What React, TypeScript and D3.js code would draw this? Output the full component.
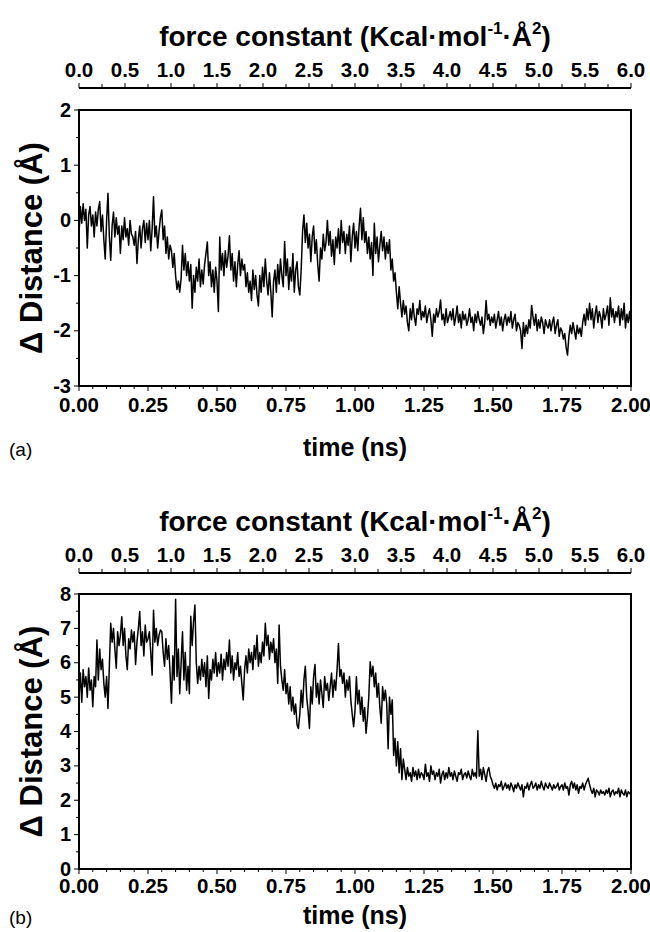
import React from "react";
import * as d3 from "d3";

const STEP = 0.005; // ns between samples
const timeTicks = [0, 0.25, 0.5, 0.75, 1.0, 1.25, 1.5, 1.75, 2.0];
const forceTicks = [0, 0.5, 1.0, 1.5, 2.0, 2.5, 3.0, 3.5, 4.0, 4.5, 5.0, 5.5, 6.0];
const yTicksA = [-3, -2, -1, 0, 1, 2];
const yTicksB = [0, 1, 2, 3, 4, 5, 6, 7, 8];

const seriesA: number[] = [
  -0.25, 0.25, -0.05, 0.3, 0.0, 0.2, -0.5, 0.1, 0.25, -0.1,
  0.1, -0.3, 0.15, -0.1, 0.2, 0.34, -0.2, 0.1, -0.35, -0.7,
  0.0, 0.49, -0.3, -0.72, -0.1, 0.15, -0.3, 0.05, -0.25, -0.1,
  -0.6, -0.1, -0.35, 0.05, -0.3, -0.15, -0.45, 0.0, -0.25, -0.3,
  -0.45, -0.2, -0.78, -0.35, -0.1, -0.5, -0.15, 0.0, -0.4, -0.05,
  -0.35, 0.0, -0.55, -0.15, 0.43, -0.3, -0.1, -0.5, -0.2, 0.05,
  0.19, -0.35, -0.1, -0.6, -0.3, -0.7, -0.45, -0.55, -0.85, -0.6,
  -1.0, -1.25, -1.1, -1.3, -1.05, -0.45, -0.9, -0.6, -1.0, -0.75,
  -1.1, -0.8, -1.59, -1.0, -1.3, -0.85, -1.1, -0.7, -1.2, -0.9,
  -1.15, -0.8, -0.6, -0.39, -1.0, -0.75, -1.2, -0.9, -1.3, -0.85,
  -1.1, -1.65, -0.3, -0.9, -0.6, -1.0, -0.55, -0.85, -0.65, -0.28,
  -0.9, -0.6, -1.1, -0.75, -1.2, -0.8, -0.55, -1.0, -0.7, -0.9,
  -0.8, -1.2, -0.95, -1.3, -1.1, -1.45, -0.9, -1.25, -1.0, -1.35,
  -1.55, -1.0, -1.3, -0.85, -1.2, -0.7, -1.1, -1.35, -0.95, -1.3,
  -1.75, -1.1, -0.9, -1.3, -0.8, -1.15, -0.7, -1.0, -1.2, -0.38,
  -1.0, -0.7, -1.25, -0.85, -1.1, -0.6, -1.3, -0.9, -0.75, -1.2,
  -1.35, -0.9, -0.2, 0.1, -0.4, -0.05, -0.5, -0.25, -0.75, -0.3,
  -0.1, -0.6, -0.35, -0.8, -1.1, -0.5, -0.7, -0.25, -0.55, -0.4,
  0.0, -0.45, -0.2, -0.65, -0.35, -0.8, -0.3, -0.5, -0.15, -0.6,
  0.0, -0.4, -0.2, -0.6, -0.25, -0.45, -0.1, -0.75, -0.3, -0.05,
  -0.5, -0.2, -0.55, -0.1, 0.22, -0.35, 0.05, -0.4, -0.2, -0.6,
  -0.3, -0.7, -0.4, -1.0, -0.05, -0.6, -0.3, -0.75, -0.45, -0.2,
  -0.55, -0.3, -0.7, -0.4, -0.6, -0.35, -0.9, -0.7, -1.1, -0.95,
  -1.3, -1.6, -1.2, -1.5, -1.75, -1.45, -1.7, -1.55, -1.85, -2.0,
  -1.6, -1.8, -1.5, -1.75, -1.9, -1.6, -1.7, -1.45, -1.8, -1.65,
  -1.75, -1.55, -1.85, -1.7, -1.6, -1.8, -2.1, -1.7, -1.85, -1.6,
  -1.75, -1.65, -1.44, -1.8, -1.7, -1.9, -1.6, -1.85, -1.75, -1.65,
  -1.8, -1.6, -1.9, -1.75, -1.55, -1.85, -1.7, -1.95, -1.65, -1.8,
  -1.7, -1.9, -1.8, -1.6, -1.85, -1.75, -2.0, -1.7, -1.85, -1.65,
  -1.8, -1.9, -1.75, -2.05, -1.85, -1.45, -1.8, -1.7, -1.9, -1.75,
  -1.85, -1.7, -1.95, -1.8, -1.65, -1.9, -1.75, -2.0, -1.8, -1.7,
  -1.9, -1.75, -1.85, -1.65, -1.95, -1.8, -1.7, -2.0, -1.85, -1.9,
  -2.0, -2.32, -1.85, -2.1, -1.9, -2.05, -1.8, -1.95, -1.54, -1.75,
  -1.9, -1.7, -2.0, -1.8, -1.95, -1.75, -1.85, -2.05, -1.8, -1.9,
  -1.95, -1.8, -2.0, -1.85, -1.75, -2.05, -1.9, -1.8, -2.1, -1.95,
  -2.0, -2.15, -2.05, -2.3, -2.44, -2.1, -1.9, -2.05, -1.85, -2.0,
  -2.15, -1.9, -2.05, -1.95, -2.1, -1.85, -1.7, -1.9, -1.6, -1.8,
  -1.5, -1.8, -1.6, -1.95, -1.7, -1.55, -1.85, -1.65, -1.75, -1.95,
  -1.6, -1.8, -1.7, -1.55, -1.9, -1.4, -1.75, -1.6, -1.85, -1.65,
  -1.75, -1.55, -1.9, -1.6, -1.8, -1.5, -1.95, -1.7, -1.85, -1.65,
  -1.9,
];

const seriesB: number[] = [
  5.0, 5.7, 4.85, 5.8, 5.3, 5.6, 5.0, 5.85, 5.2, 5.5,
  4.72, 5.6, 5.3, 6.66, 5.5, 6.4, 5.8, 6.1, 5.4, 5.0,
  5.6, 4.67, 5.9, 7.15, 6.6, 7.0, 6.4, 5.84, 6.9, 6.5,
  6.8, 7.34, 6.5, 7.0, 6.2, 5.8, 6.7, 6.4, 6.95, 6.6,
  6.9, 5.95, 6.6, 7.0, 7.49, 6.5, 6.9, 6.2, 7.1, 6.6,
  6.7, 6.9, 6.3, 5.64, 7.53, 6.6, 7.0, 6.5, 6.8, 6.95,
  6.9, 6.3, 5.9, 6.7, 6.1, 6.5, 5.7, 4.82, 6.2, 5.5,
  7.85, 5.6, 6.4, 5.1, 6.0, 6.9, 5.5, 6.3, 5.2, 5.9,
  5.1, 7.35, 6.5, 7.2, 7.68, 6.0, 5.4, 5.9, 5.5, 6.1,
  5.6, 6.0, 5.3, 6.2, 4.96, 5.8, 5.5, 6.1, 5.7, 6.3,
  5.6, 6.0, 5.7, 6.25, 5.5, 6.1, 5.8, 6.3, 5.9, 6.66,
  5.7, 6.2, 5.5, 6.0, 5.8, 6.3, 5.6, 5.9, 5.4, 4.92,
  5.8, 6.2, 5.7, 6.4, 6.0, 6.3, 5.8, 6.5, 6.1, 6.8,
  5.9, 6.3, 6.0, 6.6, 6.2, 7.15, 6.5, 6.8, 6.1, 6.6,
  6.3, 6.7, 6.0, 6.4, 5.4, 7.1, 5.9, 5.5, 5.2, 5.8,
  5.1, 5.4, 4.8, 5.3, 4.6, 5.0, 4.5, 4.8, 4.2, 4.09,
  4.5, 5.2, 4.7, 5.5, 5.9, 5.0, 4.6, 4.09, 5.3, 4.8,
  5.6, 5.95, 5.0, 5.4, 4.8, 5.5, 5.1, 4.7, 5.6, 5.2,
  5.4, 4.9, 5.3, 5.7, 5.0, 5.5, 5.2, 5.8, 6.56, 5.6,
  5.8, 5.4, 5.7, 5.0, 5.5, 5.2, 5.6, 4.9, 4.5, 4.14,
  4.6, 5.59, 4.8, 5.2, 4.5, 5.0, 4.3, 4.7, 3.95, 4.4,
  5.0, 6.03, 5.6, 5.9, 5.3, 5.7, 5.0, 5.4, 4.7, 4.24,
  5.3, 4.9, 5.2, 4.8, 3.5, 5.0, 4.5, 4.92, 3.3, 3.8,
  3.0, 3.7, 2.8, 3.5, 2.6, 3.2, 2.9, 2.6, 2.95, 2.7,
  2.8, 2.55, 2.95, 2.7, 2.85, 2.6, 2.9, 2.65, 2.8, 2.75,
  2.6, 3.05, 2.7, 2.8, 2.55, 3.0, 2.75, 2.85, 2.6, 2.8,
  2.7, 2.9, 2.5, 2.75, 2.85, 2.6, 2.8, 2.65, 2.95, 2.7,
  2.8, 2.6, 2.85, 2.7, 2.55, 2.8, 2.75, 2.9, 2.6, 2.75,
  2.8, 2.65, 2.85, 2.7, 2.6, 2.9, 2.7, 2.8, 2.65, 4.02,
  2.7, 2.9, 2.6, 2.95, 2.75, 2.55, 2.85, 2.95, 2.7, 2.6,
  2.45, 2.35, 2.5, 2.3, 2.45, 2.4, 2.55, 2.3, 2.4, 2.5,
  2.35, 2.45, 2.3, 2.5, 2.4, 2.25, 2.45, 2.35, 2.5, 2.4,
  2.3, 2.45, 2.1, 2.4, 2.35, 2.5, 2.3, 2.45, 2.55, 2.35,
  2.4, 2.5, 2.3, 2.45, 2.35, 2.55, 2.4, 2.3, 2.5, 2.4,
  2.35, 2.5, 2.4, 2.3, 2.45, 2.35, 2.4, 2.5, 2.3, 2.4,
  2.45, 2.3, 2.5, 2.35, 2.4, 2.15, 2.45, 2.55, 2.35, 2.5,
  2.3, 2.45, 2.2, 2.4, 2.35, 2.5, 2.3, 2.45, 2.55, 2.64,
  2.45, 2.3, 2.2, 2.35, 2.1, 2.3, 2.25, 2.15, 2.3, 2.2,
  2.25, 2.15, 2.3, 2.2, 2.35, 2.1, 2.25, 2.3, 2.15, 2.25,
  2.2, 2.35, 2.1, 2.3, 2.2, 2.15, 2.3, 2.1, 2.25, 2.2,
  2.15,
];

const FONT = "'Liberation Sans', Arial, Helvetica, sans-serif";

type PanelProps = {
  plotTop: number;
  plotBottom: number;
  titleY: number;
  axisY: number;
  tickLabelY: number;
  xLabelY: number;
  yDomain: [number, number];
  yTicks: number[];
  data: number[];
  label: string;
};

const LEFT = 79;
const RIGHT = 631;

function Panel({ plotTop, plotBottom, titleY, axisY, tickLabelY, xLabelY, yDomain, yTicks, data, label }: PanelProps) {
  const x = d3.scaleLinear().domain([0, 2]).range([LEFT, RIGHT]);
  const xf = d3.scaleLinear().domain([0, 6]).range([LEFT, RIGHT]);
  const y = d3.scaleLinear().domain(yDomain).range([plotBottom, plotTop]);
  const line = d3
    .line<number>()
    .x((_, i) => x(i * STEP))
    .y((d) => y(d));

  const minorForce = d3.range(0, 6.0001, 0.25);
  const minorTime = d3.range(0, 2.0001, 0.05);
  const minorY = d3.range(yDomain[0], yDomain[1] + 0.0001, 0.5);
  const midX = (LEFT + RIGHT) / 2;
  const midY = (plotTop + plotBottom) / 2;

  return (
    <g>
      {/* top title */}
      <text x={midX} y={titleY} textAnchor="middle" fontFamily={FONT} fontWeight="bold" fontSize={28}>
        force constant (Kcal·mol
        <tspan fontSize={17} dy={-12}>-1</tspan>
        <tspan dy={12}>·Å</tspan>
        <tspan fontSize={17} dy={-12}>2</tspan>
        <tspan dy={12}>)</tspan>
      </text>
      {/* top axis */}
      <line x1={LEFT} x2={RIGHT} y1={axisY} y2={axisY} stroke="#000" strokeWidth={1.8} />
      {minorForce.map((v, i) => (
        <line key={"tf" + i} x1={xf(v)} x2={xf(v)} y1={axisY} y2={axisY - (i % 2 === 0 ? 5 : 4)} stroke="#000" strokeWidth={1} />
      ))}
      {forceTicks.map((v) => (
        <text key={"tfl" + v} x={xf(v)} y={axisY - 11} textAnchor="middle" fontFamily={FONT} fontWeight="bold" fontSize={20.5}>
          {v.toFixed(1)}
        </text>
      ))}
      {/* plot frame */}
      <rect x={LEFT} y={plotTop} width={RIGHT - LEFT} height={plotBottom - plotTop} fill="none" stroke="#000" strokeWidth={2} />
      {/* y axis ticks */}
      {minorY.map((v, i) => (
        <line key={"ym" + i} x1={LEFT} x2={LEFT - (Math.abs(v - Math.round(v)) < 1e-6 ? 5 : 3)} y1={y(v)} y2={y(v)} stroke="#000" strokeWidth={1} />
      ))}
      {yTicks.map((v) => (
        <text key={"yl" + v} x={LEFT - 8} y={y(v) + 6.5} textAnchor="end" fontFamily={FONT} fontWeight="bold" fontSize={20}>
          {v}
        </text>
      ))}
      {/* bottom axis ticks */}
      {minorTime.map((v, i) => (
        <line key={"bt" + i} x1={x(v)} x2={x(v)} y1={plotBottom} y2={plotBottom + (i % 5 === 0 ? 5 : 3)} stroke="#000" strokeWidth={1} />
      ))}
      {timeTicks.map((v) => (
        <text key={"btl" + v} x={x(v)} y={tickLabelY} textAnchor="middle" fontFamily={FONT} fontWeight="bold" fontSize={20.5}>
          {v.toFixed(2)}
        </text>
      ))}
      {/* data */}
      <path d={line(data) || ""} fill="none" stroke="#000" strokeWidth={1.5} strokeLinejoin="round" />
      {/* y label */}
      <text transform={`translate(42, ${midY}) rotate(-90)`} textAnchor="middle" fontFamily={FONT} fontWeight="bold" fontSize={31}>
        Δ Distance (Å)
      </text>
      {/* x label */}
      <text x={midX} y={xLabelY} textAnchor="middle" fontFamily={FONT} fontWeight="bold" fontSize={25}>
        time (ns)
      </text>
      <text x={9} y={xLabelY} fontFamily={FONT} fontSize={19}>
        {label}
      </text>
    </g>
  );
}

export default function App() {
  return (
    <svg width={650} height={932} style={{ position: "absolute", left: 0, top: 0, background: "#fff" }}>
      <rect x={0} y={0} width={650} height={932} fill="#fff" />
      <Panel plotTop={110} plotBottom={386} titleY={46} axisY={88} tickLabelY={412} xLabelY={456}
        yDomain={[-3, 2]} yTicks={yTicksA} data={seriesA} label="(a)" />
      <Panel plotTop={594} plotBottom={869} titleY={531} axisY={573} tickLabelY={893} xLabelY={924}
        yDomain={[0, 8]} yTicks={yTicksB} data={seriesB} label="(b)" />
    </svg>
  );
}
